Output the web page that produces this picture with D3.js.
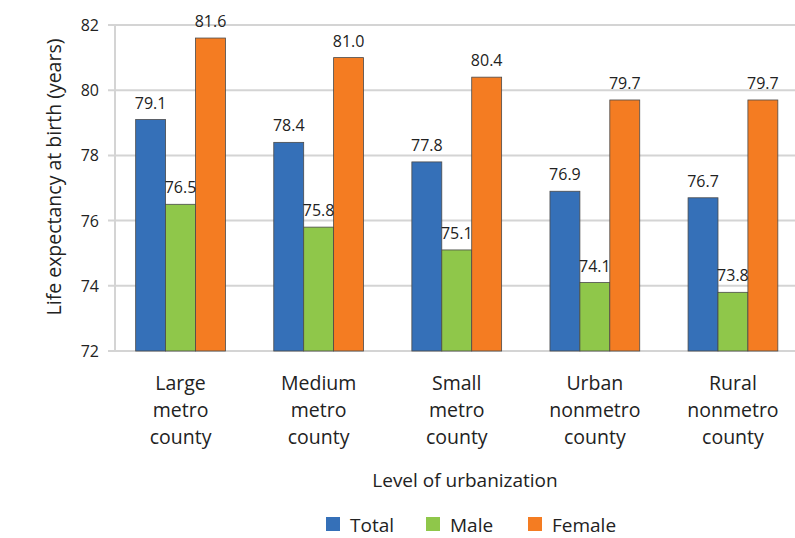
<!DOCTYPE html>
<html><head><meta charset="utf-8">
<script src="https://cdn.jsdelivr.net/npm/d3@7"></script>
<style>body{margin:0;background:#fff}svg{display:block}text{font-family:"Open Sans",sans-serif;fill:#222}</style>
</head><body><svg id="c" width="795" height="538"></svg>
<script>
const categories = [["Large","metro","county"],["Medium","metro","county"],["Small","metro","county"],["Urban","nonmetro","county"],["Rural","nonmetro","county"]];
const seriesNames = ["Total","Male","Female"];
const totalValues = [79.1, 78.4, 77.8, 76.9, 76.7];
const maleValues = [76.5, 75.8, 75.1, 74.1, 73.8];
const femaleValues = [81.6, 81.0, 80.4, 79.7, 79.7];
const yTicks = [72, 74, 76, 78, 80, 82];
const colors = ["#3570B8", "#8FC74A", "#F47C22"];

const svg = d3.select("#c");
const seriesValues = [totalValues, maleValues, femaleValues];
const catKeys = categories.map((c,i)=>i);

const y = d3.scaleLinear().domain([72, 82]).range([351, 25]);
const x0 = d3.scaleBand().domain(catKeys).range([111.5, 802]).paddingInner(0.35).paddingOuter(0.175);
const x1 = d3.scaleBand().domain(seriesNames).range([0, x0.bandwidth()]);

// gridlines
svg.append("g").selectAll("line").data(yTicks).join("line")
  .attr("x1", 108).attr("x2", 795)
  .attr("y1", d=>y(d)).attr("y2", d=>y(d))
  .attr("stroke", "#d4d4d4").attr("stroke-width", 2);
// y axis line
svg.append("line").attr("x1",115).attr("x2",115).attr("y1",y(82)).attr("y2",y(72))
  .attr("stroke","#d4d4d4").attr("stroke-width",2);

// tick labels
svg.append("g").selectAll("text").data(yTicks).join("text")
  .attr("x", 99).attr("y", d=>y(d)+6)
  .attr("text-anchor","end").attr("font-size",16).text(d=>d);

// bars
const groups = svg.append("g").selectAll("g").data(catKeys).join("g")
  .attr("transform", d=>`translate(${x0(d)},0)`);
groups.selectAll("rect").data(i=>seriesNames.map((s,j)=>({s, j, v: seriesValues[j][i]}))).join("rect")
  .attr("x", d=>x1(d.s)).attr("width", x1.bandwidth())
  .attr("y", d=>y(d.v)).attr("height", d=>y(72)-y(d.v))
  .attr("fill", d=>colors[d.j]).attr("stroke","#4a4a4a").attr("stroke-width",0.8);
groups.selectAll("text").data(i=>seriesNames.map((s,j)=>({s, j, v: seriesValues[j][i]}))).join("text")
  .attr("x", d=>x1(d.s)+x1.bandwidth()/2).attr("y", d=>y(d.v)-11)
  .attr("text-anchor","middle").attr("font-size",16).text(d=>d.v.toFixed(1));

// category labels
const cl = svg.append("g").selectAll("text").data(catKeys).join("text")
  .attr("x", d=>x0(d)+x0.bandwidth()/2).attr("y", 390)
  .attr("text-anchor","middle").attr("font-size",19.5);
cl.selectAll("tspan").data(d=>categories[d]).join("tspan")
  .attr("x", function(){return d3.select(this.parentNode).attr("x");})
  .attr("dy", (d,i)=>i===0?0:27).text(d=>d);

// axis titles
svg.append("text").attr("x", 465).attr("y", 487).attr("text-anchor","middle")
  .attr("font-size",19).text("Level of urbanization");
svg.append("text").attr("transform","translate(61,177) rotate(-90)").attr("text-anchor","middle")
  .attr("font-size",19.5).text("Life expectancy at birth (years)");

// legend
const legX = [326, 426, 528];
const lg = svg.append("g").selectAll("g").data(seriesNames).join("g")
  .attr("transform", (d,i)=>`translate(${legX[i]},517)`);
lg.append("rect").attr("width",14).attr("height",14).attr("fill",(d,i)=>colors[i]);
lg.append("text").attr("x",24).attr("y",15).attr("font-size",19).text(d=>d);
</script></body></html>
